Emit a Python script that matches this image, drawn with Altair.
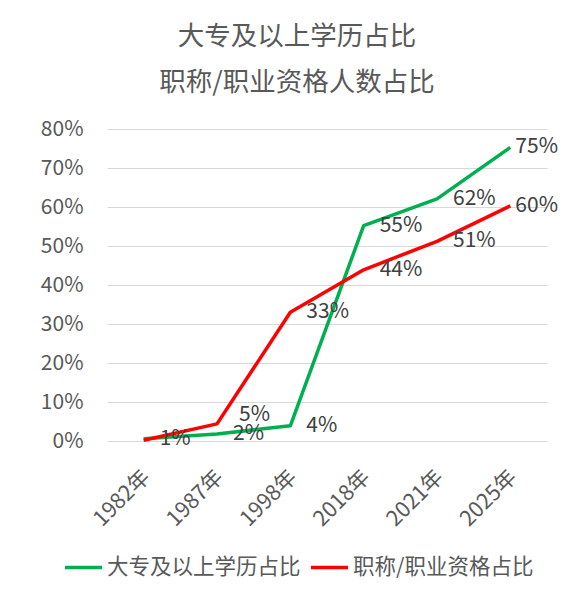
import altair as alt
import pandas as pd

years = ["1982年", "1987年", "1998年", "2018年", "2021年", "2025年"]
series_names = ["大专及以上学历占比", "职称/职业资格占比"]
edu_values = [0.006, 0.018, 0.039, 0.552, 0.621, 0.753]
edu_labels = ["1%", "2%", "4%", "55%", "62%", "75%"]
qual_values = [0.002, 0.044, 0.330, 0.439, 0.512, 0.603]
qual_labels = ["", "5%", "33%", "44%", "51%", "60%"]
title_lines = ["大专及以上学历占比", "职称/职业资格人数占比"]
y_ticks = [0, 0.1, 0.2, 0.3, 0.4, 0.5, 0.6, 0.7, 0.8]

rows = []
for i, y in enumerate(years):
    rows.append({"year": y, "series": series_names[0], "value": edu_values[i],
                 "label": edu_labels[i], "order": 0})
for i, y in enumerate(years):
    rows.append({"year": y, "series": series_names[1], "value": qual_values[i],
                 "label": qual_labels[i], "order": 1})
df = pd.DataFrame(rows)

FONT = "Noto Sans CJK SC"
GRAY = "#595959"

x_enc = alt.X("year:O", sort=years, scale=alt.Scale(padding=0.5),
              axis=alt.Axis(title=None, labelAngle=-45, labelFontSize=21.5, labelColor=GRAY,
                            labelFont=FONT, domain=False, ticks=False, tickSize=0,
                            labelPadding=25, labelOffset=-5, grid=False, labelOverlap=False))
y_enc = alt.Y("value:Q", scale=alt.Scale(domain=[0, 0.8], nice=False),
              axis=alt.Axis(title=None, values=y_ticks, format=".0%", labelFontSize=21,
                            labelColor=GRAY, labelFont=FONT, domain=False, ticks=False,
                            tickSize=0, labelPadding=24, grid=True, gridColor="#D9D9D9",
                            gridWidth=1, labelOverlap=False))

base = alt.Chart(df)

lines = base.mark_line(strokeWidth=3.5, strokeJoin="round").encode(
    x=x_enc, y=y_enc,
    color=alt.Color("series:N", sort=series_names,
                    scale=alt.Scale(domain=series_names, range=["#00B050", "#FF0000"]),
                    legend=alt.Legend(title=None, orient="none", direction="horizontal",
                                      legendX=-44, legendY=418, symbolType="stroke",
                                      symbolSize=1369, symbolStrokeWidth=3.5,
                                      labelFontSize=21.5, labelFont=FONT, labelColor=GRAY,
                                      labelOffset=3, columnPadding=3, labelLimit=400)),
    order=alt.Order("order:Q"),
)

text_common = dict(align="left", baseline="middle", fontSize=21, font=FONT, color="#404040")

labels_main = base.mark_text(dx=16, **text_common).encode(
    x=x_enc, y=y_enc, text="label:N"
).transform_filter(
    "datum.label != '' && datum.year != '2025年' && !(datum.year == '1987年' && datum.order == 1)"
)
labels_last = base.mark_text(dx=5, **text_common).encode(
    x=x_enc, y=y_enc, text="label:N"
).transform_filter("datum.year == '2025年'")
labels_shift = base.mark_text(dx=22, dy=-9, **text_common).encode(
    x=x_enc, y=y_enc, text="label:N"
).transform_filter("datum.year == '1987年' && datum.order == 1")

chart = alt.layer(lines, labels_main, labels_last, labels_shift).properties(
    width=440, height=312,
    autosize=alt.AutoSizeParams(type="none"),
    padding={"left": 99, "top": 121, "right": 22, "bottom": 151},
    title=alt.TitleParams(text=title_lines, fontSize=26.5, font=FONT, color=GRAY,
                          fontWeight="normal", lineHeight=46, anchor="middle",
                          dx=-30, offset=22),
).configure_view(stroke=None)

chart.save("out.html", embed_options={"renderer": "svg", "actions": False})
